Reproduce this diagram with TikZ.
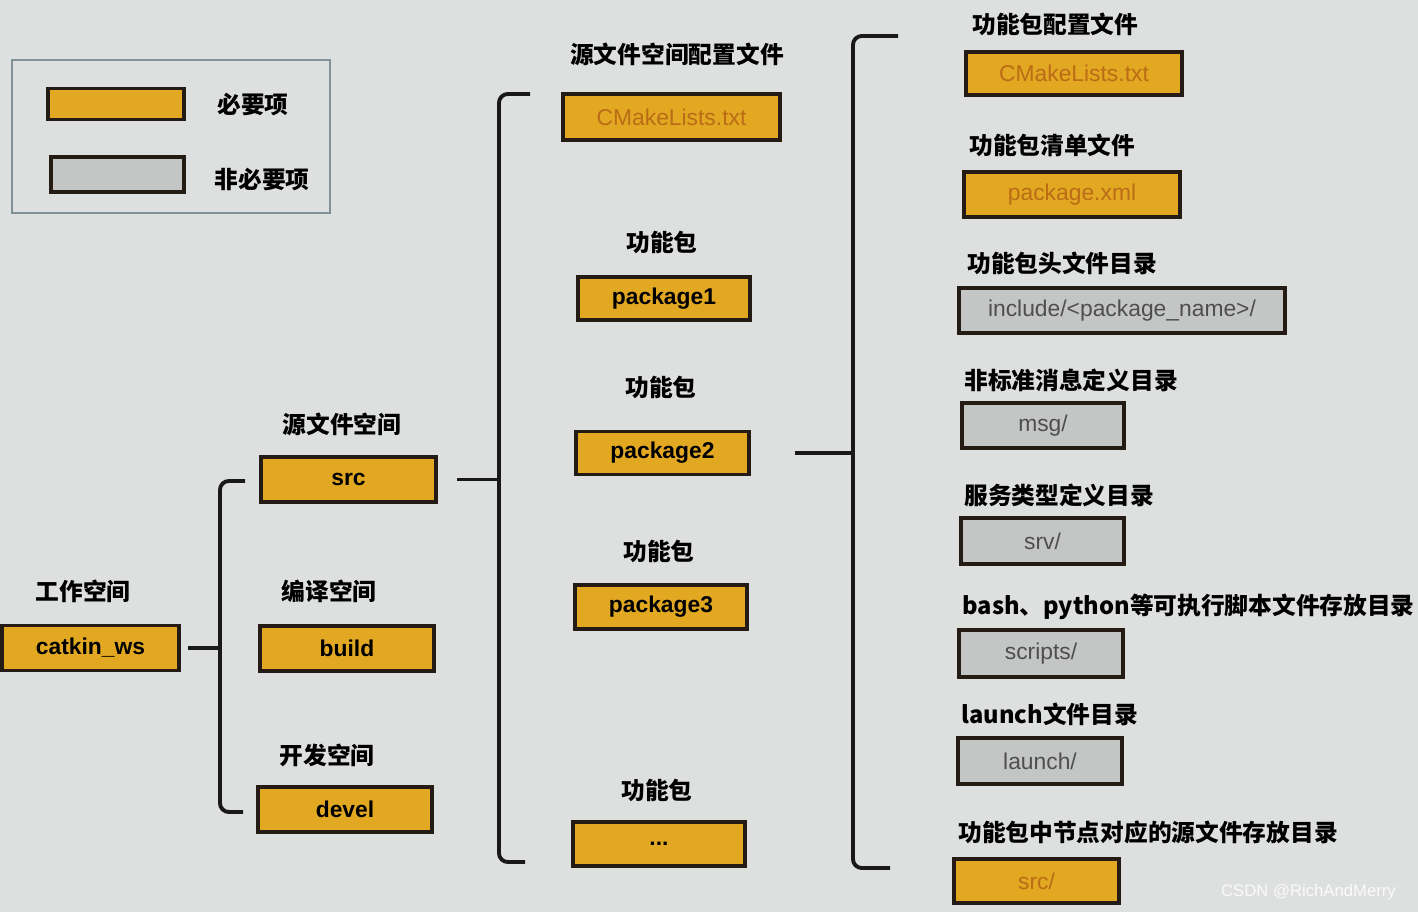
\documentclass[tikz,border=0pt]{standalone}
\usepackage{fontspec}
\setmainfont{Liberation Sans}
\newfontfamily\cjk{Noto Sans CJK SC}

\definecolor{screen}{RGB}{222,224,223}
\definecolor{boxorange}{RGB}{226,168,34}
\definecolor{boxgray}{RGB}{196,198,197}
\definecolor{edge}{RGB}{36,28,20}
\definecolor{filetext}{RGB}{186,108,22}
\definecolor{dirtext}{RGB}{78,78,78}
\definecolor{legframe}{RGB}{128,146,150}

\tikzset{
  reqbox/.style={draw=edge, line width=2pt, fill=boxorange, minimum height=0.9cm,
    inner sep=0pt, font=\fontsize{13}{15}\selectfont\bfseries},
  filebox/.style={reqbox, text=filetext, font=\fontsize{13}{15}\selectfont},
  optbox/.style={draw=edge, line width=2pt, fill=boxgray, minimum height=0.9cm,
    inner sep=0pt, text=dirtext, font=\fontsize{13}{15}\selectfont},
  lbl/.style={inner sep=0pt, font=\cjk\bfseries\fontsize{13.5}{16}\selectfont},
  brace/.style={line width=2.2pt, draw=black!90, rounded corners=5pt},
}

\begin{document}
\begin{tikzpicture}[x=0.02cm,y=-0.02cm]
\fill[screen] (0,0) rectangle (1418,912);
\useasboundingbox (0,0) rectangle (1418,912);

% legend
\draw[legframe, line width=1.2pt] (12,60) rectangle (330,213);
\node[reqbox, minimum width=2.72cm, minimum height=0.62cm] (legreq) at (116,104) {};
\node[optbox, minimum width=2.66cm, minimum height=0.7cm] (legopt) at (117.5,174.5) {};
\node[lbl] (legreqtxt) at (253,105) {必要项};
\node[lbl] (legopttxt) at (262,180) {非必要项};

% workspace
\node[lbl] (wslbl) at (83,591) {工作空间};
\node[reqbox, minimum width=3.54cm] (catkin) at (90.5,648) {catkin\_ws};

\node[lbl] (srclbl) at (342,424) {源文件空间};
\node[reqbox, minimum width=3.5cm] (src) at (348.5,479.5) {src};
\node[lbl] (buildlbl) at (329,591) {编译空间};
\node[reqbox, minimum width=3.48cm] (build) at (347,648.5) {build};
\node[lbl] (devellbl) at (327,755) {开发空间};
\node[reqbox, minimum width=3.48cm] (devel) at (345,809.5) {devel};

% source space
\node[lbl] (cmklbl) at (677,54) {源文件空间配置文件};
\node[filebox, minimum width=4.34cm, minimum height=0.92cm] (cmk) at (671.5,117) {CMakeLists.txt};
\node[lbl] (pkg1lbl) at (662,242) {功能包};
\node[reqbox, minimum width=3.44cm, minimum height=0.86cm] (pkg1) at (664,298.5) {package1};
\node[lbl] (pkg2lbl) at (661,387) {功能包};
\node[reqbox, minimum width=3.46cm, minimum height=0.86cm] (pkg2) at (662.5,453) {package2};
\node[lbl] (pkg3lbl) at (659,551) {功能包};
\node[reqbox, minimum width=3.44cm, minimum height=0.88cm] (pkg3) at (661,607) {package3};
\node[lbl] (pkgnlbl) at (657,790) {功能包};
\node[reqbox, minimum width=3.44cm, minimum height=0.88cm] (pkgn) at (659,844) {...};

% package contents
\node[lbl, anchor=west] (rcmklbl) at (972,24) {功能包配置文件};
\node[filebox, minimum width=4.32cm, minimum height=0.86cm] (rcmk) at (1074,73.5) {CMakeLists.txt};
\node[lbl, anchor=west] (rxmllbl) at (969,145) {功能包清单文件};
\node[filebox, minimum width=4.32cm] (rxml) at (1072,194.5) {package.xml};
\node[lbl, anchor=west] (rinclbl) at (967,263) {功能包头文件目录};
\node[optbox, minimum width=6.52cm] (rinc) at (1122,310.5) {include/<package\_name>/};
\node[lbl, anchor=west] (rmsglbl) at (964,380) {非标准消息定义目录};
\node[optbox, minimum width=3.24cm] (rmsg) at (1043,425.5) {msg/};
\node[lbl, anchor=west] (rsrvlbl) at (964,495) {服务类型定义目录};
\node[optbox, minimum width=3.26cm, minimum height=0.92cm] (rsrv) at (1042.5,541) {srv/};
\node[lbl, anchor=west] (rscrlbl) at (962,607) {bash、python等可执行脚本文件存放目录};
\node[optbox, minimum width=3.28cm, minimum height=0.94cm] (rscr) at (1041,653.5) {scripts/};
\node[lbl, anchor=west] (rlaulbl) at (961,714) {launch文件目录};
\node[optbox, minimum width=3.28cm, minimum height=0.92cm] (rlau) at (1040,761) {launch/};
\node[lbl, anchor=west] (rsrclbl) at (958,832) {功能包中节点对应的源文件存放目录};
\node[filebox, minimum width=3.3cm, minimum height=0.88cm] (rsrc) at (1036.5,881) {src/};

% brace ends and spines
\coordinate (b1top) at (245,481);
\coordinate (b1bot) at (243,812);
\coordinate (b1spine) at (220,0);
\coordinate (b2top) at (530,94);
\coordinate (b2bot) at (525,862);
\coordinate (b2spine) at (499,0);
\coordinate (b3top) at (898,36);
\coordinate (b3bot) at (890,868);
\coordinate (b3spine) at (853,0);

% braces
\draw[brace] (b1top) -- (b1top -| b1spine) -- (b1bot -| b1spine) -- (b1bot);
\draw[brace] ([xshift=4pt]catkin.east) -- (catkin.east -| b1spine);
\draw[brace] (b2top) -- (b2top -| b2spine) -- (b2bot -| b2spine) -- (b2bot);
\draw[brace] ([xshift=11pt]src.east) -- (src.east -| b2spine);
\draw[brace] (b3top) -- (b3top -| b3spine) -- (b3bot -| b3spine) -- (b3bot);
\draw[brace] ([xshift=25pt]pkg2.east) -- (pkg2.east -| b3spine);

\node[anchor=east, text=white!85!screen, font=\fontsize{9.5}{11}\selectfont] (mark) at (1402,892) {CSDN @RichAndMerry};
\end{tikzpicture}
\end{document}
